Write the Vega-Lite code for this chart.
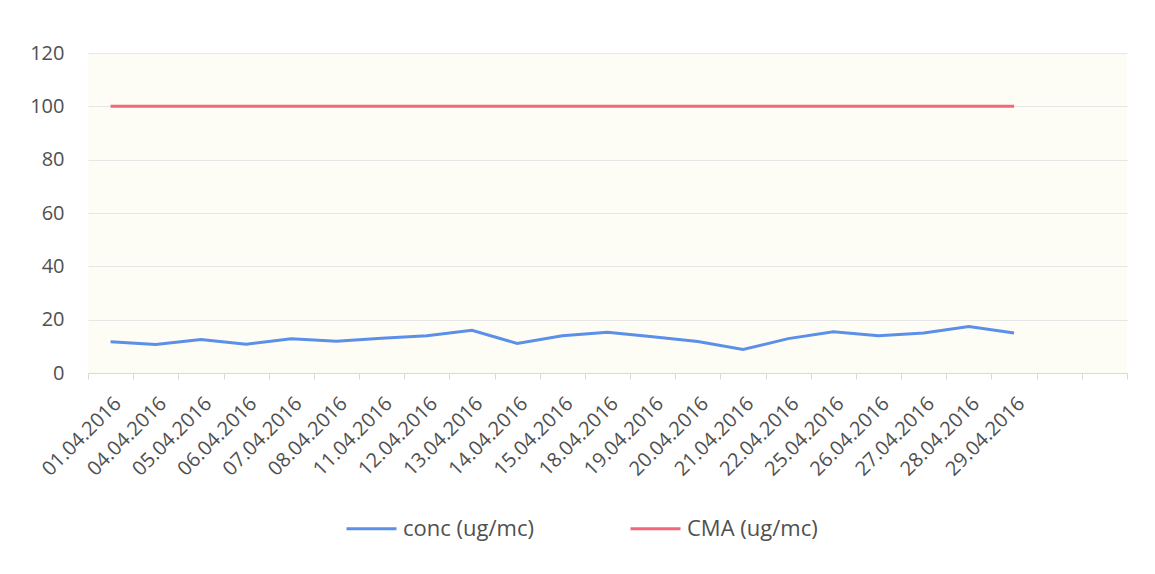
{
  "$schema": "https://vega.github.io/schema/vega-lite/v6.json",
  "width": 1039,
  "height": 320,
  "autosize": {"type": "none"},
  "padding": {"left": 88, "top": 53, "right": 28, "bottom": 201},
  "background": "white",
  "config": {
    "view": {"fill": "#fdfdf6", "stroke": null},
    "font": "Open Sans"
  },
  "data": {
    "values": [
      {"date": "01.04.2016", "series": "conc (ug/mc)", "value": 11.7},
      {"date": "04.04.2016", "series": "conc (ug/mc)", "value": 10.7},
      {"date": "05.04.2016", "series": "conc (ug/mc)", "value": 12.6},
      {"date": "06.04.2016", "series": "conc (ug/mc)", "value": 10.8},
      {"date": "07.04.2016", "series": "conc (ug/mc)", "value": 12.8},
      {"date": "08.04.2016", "series": "conc (ug/mc)", "value": 11.9},
      {"date": "11.04.2016", "series": "conc (ug/mc)", "value": 13.0},
      {"date": "12.04.2016", "series": "conc (ug/mc)", "value": 14.0},
      {"date": "13.04.2016", "series": "conc (ug/mc)", "value": 16.0},
      {"date": "14.04.2016", "series": "conc (ug/mc)", "value": 11.1},
      {"date": "15.04.2016", "series": "conc (ug/mc)", "value": 14.0},
      {"date": "18.04.2016", "series": "conc (ug/mc)", "value": 15.3},
      {"date": "19.04.2016", "series": "conc (ug/mc)", "value": 13.6},
      {"date": "20.04.2016", "series": "conc (ug/mc)", "value": 11.8},
      {"date": "21.04.2016", "series": "conc (ug/mc)", "value": 8.8},
      {"date": "22.04.2016", "series": "conc (ug/mc)", "value": 12.9},
      {"date": "25.04.2016", "series": "conc (ug/mc)", "value": 15.5},
      {"date": "26.04.2016", "series": "conc (ug/mc)", "value": 14.0},
      {"date": "27.04.2016", "series": "conc (ug/mc)", "value": 15.0},
      {"date": "28.04.2016", "series": "conc (ug/mc)", "value": 17.4},
      {"date": "29.04.2016", "series": "conc (ug/mc)", "value": 15.0},
      {"date": "01.04.2016", "series": "CMA (ug/mc)", "value": 100},
      {"date": "04.04.2016", "series": "CMA (ug/mc)", "value": 100},
      {"date": "05.04.2016", "series": "CMA (ug/mc)", "value": 100},
      {"date": "06.04.2016", "series": "CMA (ug/mc)", "value": 100},
      {"date": "07.04.2016", "series": "CMA (ug/mc)", "value": 100},
      {"date": "08.04.2016", "series": "CMA (ug/mc)", "value": 100},
      {"date": "11.04.2016", "series": "CMA (ug/mc)", "value": 100},
      {"date": "12.04.2016", "series": "CMA (ug/mc)", "value": 100},
      {"date": "13.04.2016", "series": "CMA (ug/mc)", "value": 100},
      {"date": "14.04.2016", "series": "CMA (ug/mc)", "value": 100},
      {"date": "15.04.2016", "series": "CMA (ug/mc)", "value": 100},
      {"date": "18.04.2016", "series": "CMA (ug/mc)", "value": 100},
      {"date": "19.04.2016", "series": "CMA (ug/mc)", "value": 100},
      {"date": "20.04.2016", "series": "CMA (ug/mc)", "value": 100},
      {"date": "21.04.2016", "series": "CMA (ug/mc)", "value": 100},
      {"date": "22.04.2016", "series": "CMA (ug/mc)", "value": 100},
      {"date": "25.04.2016", "series": "CMA (ug/mc)", "value": 100},
      {"date": "26.04.2016", "series": "CMA (ug/mc)", "value": 100},
      {"date": "27.04.2016", "series": "CMA (ug/mc)", "value": 100},
      {"date": "28.04.2016", "series": "CMA (ug/mc)", "value": 100},
      {"date": "29.04.2016", "series": "CMA (ug/mc)", "value": 100}
    ]
  },
  "mark": {"type": "line", "strokeWidth": 3},
  "encoding": {
    "x": {
      "field": "date",
      "type": "nominal",
      "sort": null,
      "bandPosition": 0.5,
      "scale": {
        "type": "band",
        "paddingInner": 0,
        "paddingOuter": 0,
        "domain": ["01.04.2016", "04.04.2016", "05.04.2016", "06.04.2016", "07.04.2016", "08.04.2016", "11.04.2016", "12.04.2016", "13.04.2016", "14.04.2016", "15.04.2016", "18.04.2016", "19.04.2016", "20.04.2016", "21.04.2016", "22.04.2016", "25.04.2016", "26.04.2016", "27.04.2016", "28.04.2016", "29.04.2016", "x1", "x2"]
      },
      "axis": {
        "title": null,
        "labelAngle": -45,
        "labelFontSize": 20,
        "labelColor": "#505050",
        "labelExpr": "(datum.value == 'x1' || datum.value == 'x2') ? '' : datum.value",
        "tickBand": "extent",
        "tickColor": "#d9d9d9",
        "tickSize": 6,
        "domainColor": "#d9d9d9",
        "domainWidth": 1,
        "grid": false,
        "labelPadding": 14,
        "labelOverlap": false
      }
    },
    "y": {
      "field": "value",
      "type": "quantitative",
      "scale": {"domain": [0, 120], "nice": false},
      "axis": {
        "title": null,
        "values": [0, 20, 40, 60, 80, 100, 120],
        "labelFontSize": 20,
        "labelColor": "#505050",
        "labelPadding": 24,
        "domain": false,
        "ticks": false,
        "gridColor": "#e6e6e6",
        "gridWidth": 1
      }
    },
    "color": {
      "field": "series",
      "type": "nominal",
      "scale": {
        "domain": ["conc (ug/mc)", "CMA (ug/mc)"],
        "range": ["#5b8fe8", "#f4667c"]
      },
      "legend": {
        "title": null,
        "orient": "none",
        "direction": "horizontal",
        "legendX": 257,
        "legendY": 449,
        "symbolType": "stroke",
        "symbolSize": 2500,
        "symbolStrokeWidth": 3,
        "labelFontSize": 22,
        "labelColor": "#505050",
        "labelOffset": 5,
        "columnPadding": 90
      }
    }
  }
}
